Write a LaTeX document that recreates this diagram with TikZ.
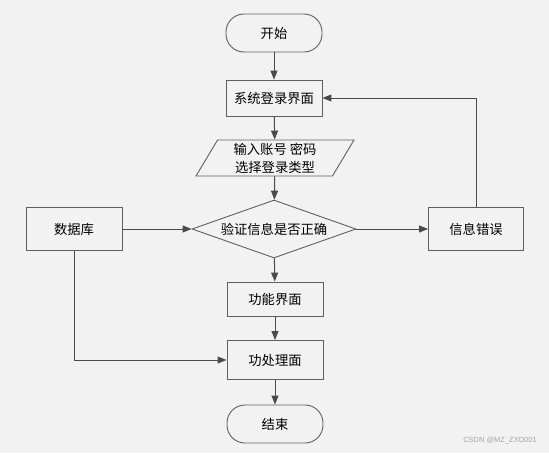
\documentclass[tikz,border=0pt]{standalone}
\usepackage{fontspec}
\newfontfamily\cjk{Noto Sans CJK SC}
\newfontfamily\wmfont{Liberation Sans}
\usetikzlibrary{shapes.geometric, arrows.meta}
\definecolor{bgcol}{HTML}{F2F2F2}
\definecolor{edgecol}{HTML}{5F5F5F}
\definecolor{linecol}{HTML}{4A4A4A}

\begin{document}
\begin{tikzpicture}[x=1pt, y=-1pt,
  every node/.style={font=\cjk\fontsize{13.3}{18}\selectfont, text=black},
  termbox/.style={draw=edgecol, fill=bgcol, line width=0.9pt, rectangle, rounded corners=18pt, minimum width=96pt, minimum height=38pt},
  procbox/.style={draw=edgecol, fill=bgcol, line width=0.9pt, rectangle, minimum width=96pt},
  iobox/.style={draw=edgecol, fill=bgcol, line width=0.9pt, trapezium, trapezium left angle=63, trapezium right angle=117, trapezium stretches=true, minimum width=158pt, minimum height=36pt, inner sep=0pt, align=center},
  testbox/.style={draw=edgecol, fill=bgcol, line width=0.9pt, diamond, aspect=2.8, inner sep=0pt, minimum width=164pt, minimum height=58pt},
  flow/.style={draw=linecol, line width=1pt, -{Triangle[length=9pt, width=7pt]}}]
  \fill[bgcol] (0,0) rectangle (549,453);
  % main column
  \node[termbox] (start) at (274,33) {开始};
  \node[procbox, minimum height=36pt] (login) at (274,98) {系统登录界面};
  \node[iobox] (input) at (275,158) {输入账号 密码\\选择登录类型};
  \node[testbox] (check) at (274,229) {验证信息是否正确};
  \node[procbox, minimum height=34pt] (func) at (275,299) {功能界面};
  \node[procbox, minimum height=39pt] (proc) at (275,360) {功处理面};
  \node[termbox] (stop) at (275,424) {结束};
  % side boxes
  \node[procbox, minimum height=43pt] (db) at (74,229) {数据库};
  \node[procbox, minimum width=95pt, minimum height=43pt] (err) at (476,229) {信息错误};
  % connectors
  \draw[flow] (start) -- (login);
  \draw[flow] (login) -- (input);
  \draw[flow] (input) -- (check);
  \draw[flow] (check) -- (func);
  \draw[flow] (func) -- (proc);
  \draw[flow] (proc) -- (stop);
  \draw[flow] (db) -- (check);
  \draw[flow] (check) -- (err);
  \draw[flow] (err.north) |- (login.east);
  \draw[flow] (db.south) |- (proc.west);
  \node[font=\wmfont\fontsize{7.5}{9}\selectfont, text=black!35] (mark) at (500,441) {CSDN @MZ\_ZXD001};
\end{tikzpicture}
\end{document}
